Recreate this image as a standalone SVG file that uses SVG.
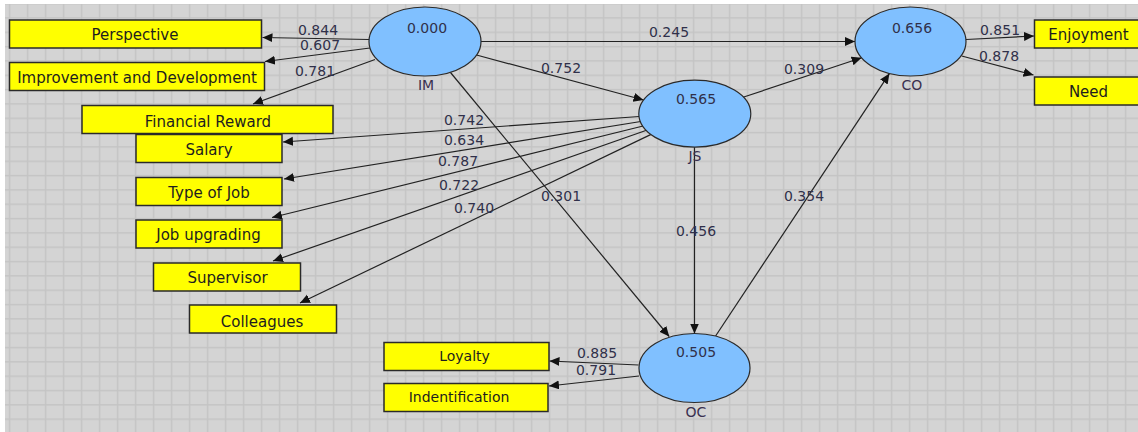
<svg xmlns="http://www.w3.org/2000/svg" width="1138" height="432" viewBox="0 0 1138 432">
  <style>
    .box { fill: #ffff00; stroke: #2a2a2a; stroke-width: 1.5; }
    .lv { fill: #80c0ff; stroke: #2a2a2a; stroke-width: 1.2; }
    .bt { font-family: "DejaVu Sans", sans-serif; font-size: 15px; fill: #1e1e1e; text-anchor: middle; }
    .bs { font-size: 14px; }
    .num { font-family: "DejaVu Sans", sans-serif; font-size: 14px; fill: #30304a; text-anchor: middle; }
    .name { font-family: "DejaVu Sans", sans-serif; font-size: 14px; fill: #3a3050; text-anchor: middle; }
    .ln { stroke: #222; stroke-width: 1.2; fill: none; marker-end: url(#arr); }
  </style>
  <defs>
    <pattern id="grid" patternUnits="userSpaceOnUse" x="8.8" y="2.9" width="18" height="14.33">
      <rect x="0" y="0" width="18" height="14.33" fill="#d4d4d4"/>
      <rect x="0" y="0" width="1.4" height="14.33" fill="#c4c4c4"/>
      <rect x="0" y="0" width="18" height="1.4" fill="#c4c4c4"/>
    </pattern>
    <marker id="arr" markerUnits="userSpaceOnUse" markerWidth="11" markerHeight="10" refX="10" refY="4.5" orient="auto">
      <path d="M0,0 L10,4.5 L0,9 z" fill="#111"/>
    </marker>
  </defs>
  <rect x="0" y="0" width="1138" height="432" fill="#ffffff"/>
  <rect x="5" y="4" width="1133" height="428" fill="url(#grid)"/>

  <g id="connectors">
    <line class="ln" x1="369" y1="39.5" x2="262.5" y2="37.5"/>
    <line class="ln" x1="370" y1="48" x2="265" y2="61.5"/>
    <line class="ln" x1="375" y1="59.5" x2="253" y2="104"/>
    <line class="ln" x1="481" y1="41.5" x2="855" y2="41.5"/>
    <line class="ln" x1="476.5" y1="55" x2="643.5" y2="100"/>
    <line class="ln" x1="450.5" y1="72.5" x2="669.2" y2="336.5"/>
    <line class="ln" x1="743" y1="97.3" x2="861.6" y2="57.8"/>
    <line class="ln" x1="694.5" y1="147" x2="694.5" y2="333.5"/>
    <line class="ln" x1="715.6" y1="336" x2="889.4" y2="73.6"/>
    <line class="ln" x1="966" y1="39.5" x2="1034" y2="36"/>
    <line class="ln" x1="961.7" y1="56" x2="1033.5" y2="75"/>
    <line class="ln" x1="639.4" y1="116.5" x2="283" y2="142"/>
    <line class="ln" x1="640.8" y1="121.5" x2="284" y2="179"/>
    <line class="ln" x1="643.1" y1="126" x2="272" y2="217.5"/>
    <line class="ln" x1="646.5" y1="130.3" x2="273" y2="261"/>
    <line class="ln" x1="651.1" y1="134.4" x2="300" y2="303"/>
    <line class="ln" x1="638.5" y1="365" x2="549.5" y2="361"/>
    <line class="ln" x1="639" y1="376" x2="549" y2="386"/>
    <g id="path-labels">
      <text class="num" x="318" y="34.5">0.844</text>
      <text class="num" x="320" y="49.5">0.607</text>
      <text class="num" x="315" y="76">0.781</text>
      <text class="num" x="669" y="36.5">0.245</text>
      <text class="num" x="561" y="73">0.752</text>
      <text class="num" x="561" y="201">0.301</text>
      <text class="num" x="804" y="73.5">0.309</text>
      <text class="num" x="696" y="236">0.456</text>
      <text class="num" x="804" y="201">0.354</text>
      <text class="num" x="1000" y="35">0.851</text>
      <text class="num" x="999" y="61">0.878</text>
      <text class="num" x="464" y="124.5">0.742</text>
      <text class="num" x="464" y="145">0.634</text>
      <text class="num" x="458" y="166">0.787</text>
      <text class="num" x="459" y="189.5">0.722</text>
      <text class="num" x="474" y="213">0.740</text>
      <text class="num" x="597" y="357.5">0.885</text>
      <text class="num" x="596" y="375">0.791</text>
    </g>
  </g>

  <g id="IM">
    <ellipse class="lv" cx="425" cy="41.5" rx="56" ry="34.5"/>
    <text class="num" x="427" y="33">0.000</text>
    <text class="name" x="426" y="90">IM</text>
  </g>
  <g id="JS">
    <ellipse class="lv" cx="694.8" cy="113.7" rx="56" ry="33.5"/>
    <text class="num" x="696" y="104">0.565</text>
    <text class="name" x="695" y="161">JS</text>
  </g>
  <g id="CO">
    <ellipse class="lv" cx="910.5" cy="41.5" rx="55.5" ry="34.5"/>
    <text class="num" x="912" y="33">0.656</text>
    <text class="name" x="912" y="90">CO</text>
  </g>
  <g id="OC">
    <ellipse class="lv" cx="694.5" cy="368" rx="55.5" ry="34.5"/>
    <text class="num" x="696" y="357">0.505</text>
    <text class="name" x="696" y="417">OC</text>
  </g>

  <g id="Perspective">
    <rect class="box" x="9.5" y="20" width="252" height="28"/>
    <text class="bt" x="135" y="40">Perspective</text>
  </g>
  <g id="ImprovementDevelopment">
    <rect class="box" x="9.5" y="62.5" width="255" height="28"/>
    <text class="bt" x="137" y="82.5">Improvement and Development</text>
  </g>
  <g id="FinancialReward">
    <rect class="box" x="82" y="105.5" width="251" height="28"/>
    <text class="bt" x="208" y="126.5">Financial Reward</text>
  </g>
  <g id="Salary">
    <rect class="box" x="136" y="134.5" width="146" height="28"/>
    <text class="bt" x="209" y="155">Salary</text>
  </g>
  <g id="TypeOfJob">
    <rect class="box" x="136" y="177.5" width="146" height="28"/>
    <text class="bt" x="209" y="197.5">Type of Job</text>
  </g>
  <g id="JobUpgrading">
    <rect class="box" x="136" y="220" width="146" height="28"/>
    <text class="bt" x="208.5" y="240">Job upgrading</text>
  </g>
  <g id="Supervisor">
    <rect class="box" x="153.5" y="263" width="147" height="28"/>
    <text class="bt" x="227.5" y="283">Supervisor</text>
  </g>
  <g id="Colleagues">
    <rect class="box" x="189.5" y="305" width="147" height="28"/>
    <text class="bt" x="262" y="326.5">Colleagues</text>
  </g>
  <g id="Enjoyment">
    <rect class="box" x="1034.5" y="20" width="110" height="28"/>
    <text class="bt" x="1088.5" y="39.5">Enjoyment</text>
  </g>
  <g id="Need">
    <rect class="box" x="1034.5" y="77" width="110" height="28"/>
    <text class="bt" x="1088.5" y="96.5">Need</text>
  </g>
  <g id="Loyalty">
    <rect class="box" x="384" y="342.5" width="165" height="28"/>
    <text class="bt bs" x="464.5" y="361">Loyalty</text>
  </g>
  <g id="Indentification">
    <rect class="box" x="384" y="383.5" width="164" height="28"/>
    <text class="bt bs" x="459" y="402">Indentification</text>
  </g>
</svg>
